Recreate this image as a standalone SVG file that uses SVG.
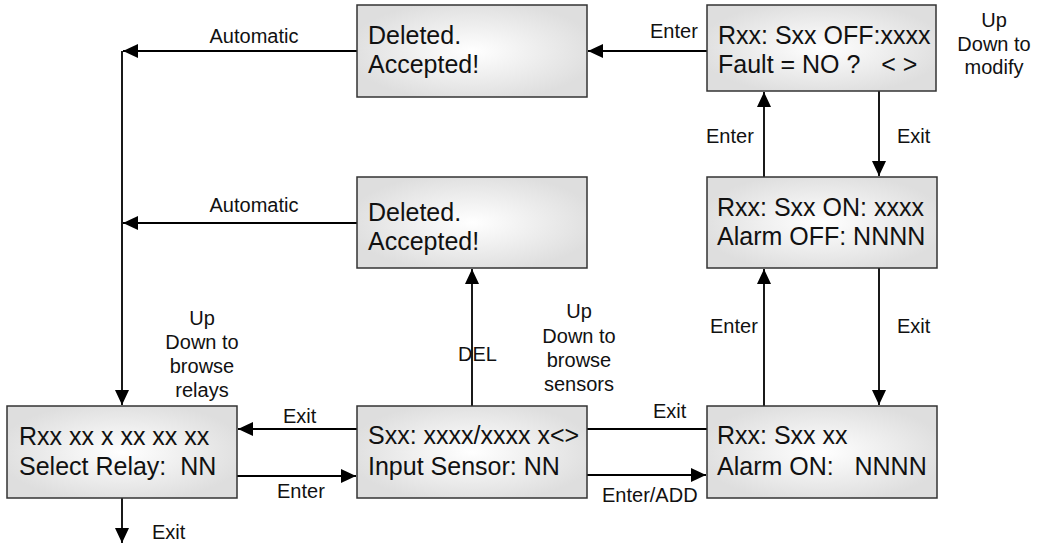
<svg xmlns="http://www.w3.org/2000/svg" width="1038" height="544" viewBox="0 0 1038 544">
<style>
.box{fill:url(#g);stroke:#333;stroke-width:1.5}
.bt{font-family:"Liberation Sans",Arial,sans-serif;font-size:25px;fill:#111;white-space:pre}
.lb{font-family:"Liberation Sans",Arial,sans-serif;font-size:20px;fill:#111;white-space:pre}
.c{fill:none;stroke:#000;stroke-width:1.8}
.a{marker-end:url(#ah)}
</style>
<defs>
<radialGradient id="g" cx="50%" cy="50%" r="55%">
<stop offset="0" stop-color="#ffffff"/>
<stop offset="1" stop-color="#dedede"/>
</radialGradient>
<marker id="ah" markerUnits="userSpaceOnUse" markerWidth="16" markerHeight="14" refX="15" refY="7" orient="auto">
<path d="M0,0 L15,7 L0,14 z" fill="#000"/>
</marker>
</defs>
<rect width="1038" height="544" fill="#fff"/>
<g id="connectors">
<path class="c a" d="M707,51 H588"/>
<path class="c a" d="M357,51 H123"/>
<path class="c a" d="M122,51 V405"/>
<path class="c a" d="M357,223 H123"/>
<path class="c a" d="M472,406 V269"/>
<path class="c a" d="M357,429 H238"/>
<path class="c a" d="M237,476 H356"/>
<path class="c" d="M707,429 H587"/>
<path class="c a" d="M587,475 H706"/>
<path class="c a" d="M122,498 V543"/>
<path class="c a" d="M764,177 V92"/>
<path class="c a" d="M879,91 V176"/>
<path class="c a" d="M764,406 V269"/>
<path class="c a" d="M879,268 V405"/>
<text class="lb" x="650" y="38">Enter</text>
<text class="lb" x="254" y="43" text-anchor="middle">Automatic</text>
<text class="lb" x="254" y="212" text-anchor="middle">Automatic</text>
<text class="lb" x="706" y="143">Enter</text>
<text class="lb" x="897" y="143">Exit</text>
<text class="lb" x="710" y="333">Enter</text>
<text class="lb" x="897" y="333">Exit</text>
<text class="lb" x="458" y="361">DEL</text>
<text class="lb" x="283" y="423">Exit</text>
<text class="lb" x="277" y="498">Enter</text>
<text class="lb" x="653" y="418">Exit</text>
<text class="lb" x="602" y="502">Enter/ADD</text>
<text class="lb" x="152" y="539">Exit</text>
<text class="lb" text-anchor="middle"><tspan x="202" y="325">Up</tspan><tspan x="202" y="349">Down to</tspan><tspan x="202" y="373">browse</tspan><tspan x="202" y="397">relays</tspan></text>
<text class="lb" text-anchor="middle"><tspan x="579" y="318">Up</tspan><tspan x="579" y="343">Down to</tspan><tspan x="579" y="367">browse</tspan><tspan x="579" y="391">sensors</tspan></text>
<text class="lb" text-anchor="middle"><tspan x="994" y="27">Up</tspan><tspan x="994" y="51">Down to</tspan><tspan x="994" y="74">modify</tspan></text>
</g>
<g id="deleted-top">
<rect class="box" x="357" y="5" width="230" height="92"/>
<text class="bt" x="368" y="44">Deleted.</text>
<text class="bt" x="368" y="73">Accepted!</text>
</g>
<g id="fault">
<rect class="box" x="707" y="5" width="229" height="86"/>
<text class="bt" x="718" y="44">Rxx: Sxx OFF:xxxx</text>
<text class="bt" x="718" y="73">Fault = NO ?   &lt; &gt;</text>
</g>
<g id="deleted-mid">
<rect class="box" x="357" y="177" width="230" height="91"/>
<text class="bt" x="368" y="221">Deleted.</text>
<text class="bt" x="368" y="250">Accepted!</text>
</g>
<g id="alarm-off">
<rect class="box" x="707" y="177" width="230" height="91"/>
<text class="bt" x="717" y="216">Rxx: Sxx ON: xxxx</text>
<text class="bt" x="717" y="245">Alarm OFF: NNNN</text>
</g>
<g id="select-relay">
<rect class="box" x="7" y="406" width="230" height="92"/>
<text class="bt" x="19" y="445">Rxx xx x xx xx xx</text>
<text class="bt" x="19" y="475">Select Relay:  NN</text>
</g>
<g id="input-sensor">
<rect class="box" x="357" y="406" width="230" height="92"/>
<text class="bt" x="368" y="444">Sxx: xxxx/xxxx x&lt;&gt;</text>
<text class="bt" x="368" y="475">Input Sensor: NN</text>
</g>
<g id="alarm-on">
<rect class="box" x="707" y="406" width="230" height="92"/>
<text class="bt" x="717" y="444">Rxx: Sxx xx</text>
<text class="bt" x="717" y="475">Alarm ON:   NNNN</text>
</g>
</svg>
